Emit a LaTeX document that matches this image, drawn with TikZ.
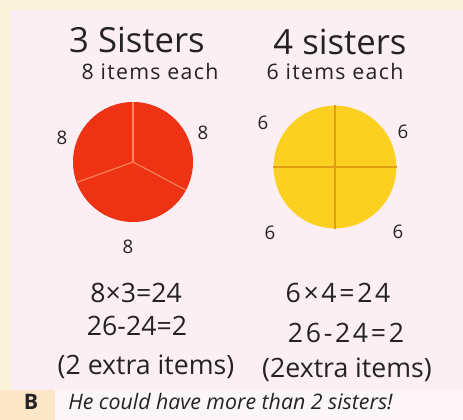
\documentclass[tikz,border=0pt]{standalone}
\usepackage{fontspec}
\setmainfont{Open Sans}
\usetikzlibrary{positioning}
\definecolor{cream}{RGB}{251,243,217}
\definecolor{card}{RGB}{252,239,243}
\definecolor{tabB}{RGB}{252,230,200}
\definecolor{strip}{RGB}{253,246,248}
\definecolor{ink}{RGB}{38,34,36}
\definecolor{redpiece}{RGB}{238,50,20}
\definecolor{redcut}{RGB}{250,135,95}
\definecolor{yellowpiece}{RGB}{252,208,32}
\definecolor{yellowcut}{RGB}{226,158,18}
\tikzset{
  hand/.style={text=ink, inner sep=0pt},
  title/.style={hand, font=\fontsize{26}{28}\selectfont},
  sub/.style={hand, font=\fontsize{16}{18}\selectfont\addfontfeature{LetterSpace=6}},
  count/.style={hand, font=\fontsize{14}{16}\selectfont},
  work/.style={hand, font=\fontsize{20}{22}\selectfont},
  wide/.style={work, font=\fontsize{20}{22}\selectfont\addfontfeature{LetterSpace=10}},
  pie/.style={circle, inner sep=0pt, draw=none},
  answer/.style={text=ink, inner sep=0pt, font=\fontsize{16}{18}\selectfont\itshape},
}
\begin{document}
\begin{tikzpicture}[x=0.75pt,y=-0.75pt]
  \useasboundingbox (0,0) rectangle (463,420);
  % page
  \fill[cream] (0,0) rectangle (463,420);
  \fill[card] (10,10) rectangle (463,390);
  \fill[tabB] (0,390) rectangle (55,420);
  \fill[strip] (55,390) rectangle (463,420);
  % headings
  \node[title] (three) at (137,40) {3 Sisters};
  \node[title] (four) at (340,42) {4 sisters};
  \node[sub] (eight) at (150,72) {8 items each};
  \node[sub] (six) at (335,72) {6 items each};
  % the two pies
  \node[pie, fill=redpiece, minimum size=90pt] (red) at (133,162) {};
  \foreach \a in {90,-28,200}
    \draw[redcut, line width=0.8pt] (red.center) -- (red.\a);
  \node[pie, fill=yellowpiece, minimum size=92pt] (yellow) at (335,167) {};
  \draw[yellowcut, line width=0.8pt] (yellow.north) -- (yellow.south);
  \draw[yellowcut, line width=0.8pt] (yellow.west) -- (yellow.east);
  % pieces per sister
  \foreach \n/\p in {a/{62,138},b/{203,133},c/{128,247}}
    \node[count] (r\n) at (\p) {8};
  \foreach \n/\p in {a/{263,123},b/{403,132},c/{270,233},d/{398,232}}
    \node[count] (y\n) at (\p) {6};
  % working
  \node[work] (mulL) at (136,293) {8×3=24};
  \node[work] (subL) at (137,326) {26-24=2};
  \node[work] (xtraL) at (146,367) {(2 extra items)};
  \node[wide] (mulR) at (338,293) {6×4=24};
  \node[wide] (subR) at (346,333) {26-24=2};
  \node[work] (xtraR) at (347,370) {(2extra items)};
  % answer line
  \node[answer, font=\fontsize{16}{18}\selectfont\bfseries] (B) at (31,402) {B};
  \node[answer, anchor=west] (ans) at (68,402) {He could have more than 2 sisters!};
\end{tikzpicture}
\end{document}
